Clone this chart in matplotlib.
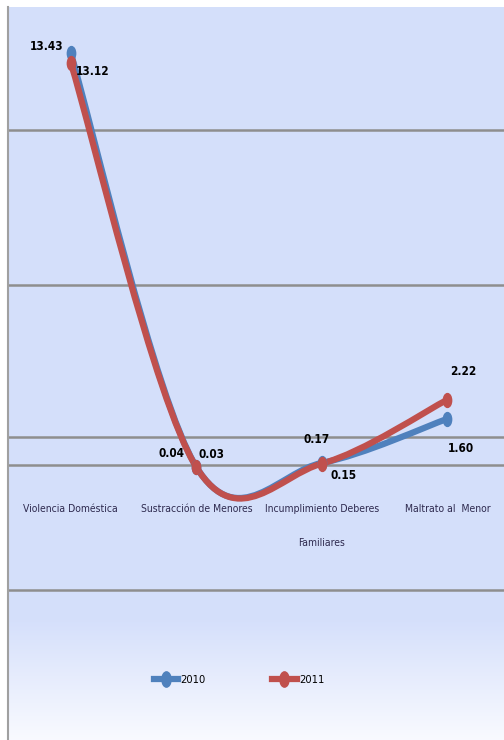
import numpy as np
import matplotlib
matplotlib.use("Agg")
import matplotlib.pyplot as plt
from matplotlib.path import Path
from matplotlib.patches import PathPatch
from matplotlib.lines import Line2D
from matplotlib.markers import MarkerStyle
from matplotlib.transforms import Affine2D

plt.rcParams['font.family'] = ['DejaVu Sans']
plt.rcParams['font.stretch'] = 'condensed'

categories = ['Violencia Doméstica', 'Sustracción de Menores',
              'Incumplimiento Deberes\nFamiliares', 'Maltrato al  Menor']
years = ['2010', '2011']
v2010 = [13.43, 0.04, 0.17, 1.60]
v2011 = [13.12, 0.03, 0.15, 2.22]
labels2010 = ['13.43', '0.04', '0.17', '1.60']
labels2011 = ['13.12', '0.03', '0.15', '2.22']

colors = {'2010': '#4f81bd', '2011': '#c0504d'}
# label offsets in pixels (dx, dy)
off2010 = [(-24, 7), (-25, 13), (-5, 23), (13, -30)]
off2011 = [(22, -9), (15, 13), (22, -12), (16, 28)]
grid_vals = [10.95, 5.93, 1.0, 0.1, -3.94]


def smooth_path(xs, ys):
    # excel-like smoothed line: cubic bezier, control points at 1/6 of neighbour span
    pts = np.column_stack([xs, ys]).astype(float)
    n = len(pts)
    verts = [pts[0]]
    codes = [Path.MOVETO]
    for i in range(n - 1):
        p_prev = pts[i - 1] if i > 0 else pts[i]
        p_next = pts[i + 2] if i + 2 < n else pts[i + 1]
        c1 = pts[i] + (pts[i + 1] - p_prev) / 6
        c2 = pts[i + 1] - (p_next - pts[i]) / 6
        verts += [c1, c2, pts[i + 1]]
        codes += [Path.CURVE4] * 3
    return Path(verts, codes)


fig = plt.figure(figsize=(5.04, 7.40), dpi=100)
fig.patch.set_facecolor('white')
ax = fig.add_axes([8 / 504, 0, 496 / 504, 733 / 740])

# background: flat lavender, fading to white near the bottom
top = np.array([0.835, 0.876, 0.984])
bot = np.array([0.975, 0.98, 1.0])
t = np.clip((np.linspace(0, 733, 300) - 613) / 120, 0, 1)[:, None]
grad = (top * (1 - t) + bot * t)[:, None, :]
ax.imshow(grad, extent=[0, 1, 0, 1], transform=ax.transAxes, aspect='auto', zorder=0)

ax.set_xlim(-0.5, 3.45)
ax.set_ylim(-8.80, 14.93)
x = np.arange(len(categories))

for gv in grid_vals:
    ax.axhline(gv, color='#8e8e8e', lw=1.8, zorder=1)

marker = MarkerStyle('o', transform=Affine2D().scale(0.6, 1.0))
handles = []
for yr, vals, labs, offs in [('2010', v2010, labels2010, off2010),
                             ('2011', v2011, labels2011, off2011)]:
    c = colors[yr]
    ax.add_patch(PathPatch(smooth_path(x, vals), facecolor='none', edgecolor=c,
                           lw=4.5, capstyle='round', joinstyle='round', zorder=3))
    ax.plot(x, vals, ls='none', marker=marker, ms=10, color=c, zorder=4)
    for xi, v, lab, (dx, dy) in zip(x, vals, labs, offs):
        ax.annotate(lab, (xi, v), xytext=(dx, dy), textcoords='offset pixels',
                    ha='center', va='center', fontsize=8.5, color='black',
                    fontweight='bold', zorder=5)
    handles.append(Line2D([], [], color=c, lw=4.5, marker=marker, ms=11, label=yr))

for xi, cat in zip(x, categories):
    ax.text(xi, -1.15, cat, ha='center', va='top', fontsize=7.5,
            color='#2e2a4f', linespacing=4.1, zorder=5)

ax.set_xticks([])
ax.set_yticks([])
for s in ['top', 'right', 'bottom']:
    ax.spines[s].set_visible(False)
ax.spines['left'].set_color('#a0a0a0')
ax.spines['left'].set_linewidth(1.5)

fig.legend(handles=handles, loc='center', bbox_to_anchor=(239 / 504, 1 - 680 / 740),
           ncol=2, frameon=False, fontsize=8, handlelength=2.2,
           handletextpad=0.2, columnspacing=6.0)

fig.savefig('out.png', dpi=100)
